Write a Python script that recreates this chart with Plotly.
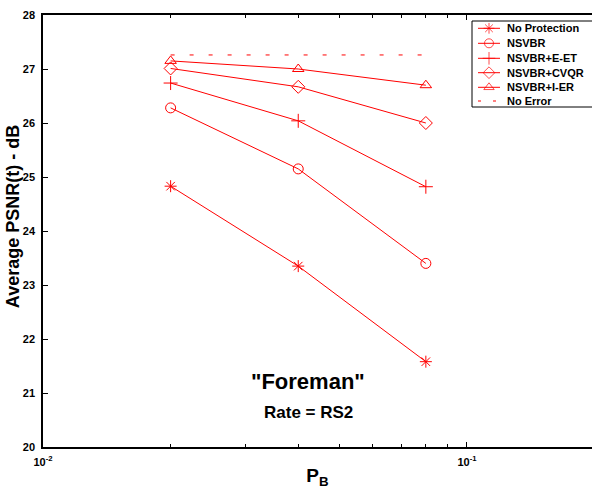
import plotly.graph_objects as go

pb = [0.02, 0.04, 0.08]
no_protection = [24.83, 23.35, 21.58]
nsvbr = [26.28, 25.15, 23.40]
nsvbr_eet = [26.74, 26.04, 24.82]
nsvbr_cvqr = [27.01, 26.67, 26.00]
nsvbr_ier = [27.15, 27.00, 26.70]
no_error = [27.26, 27.26, 27.26]

names = ["No Protection", "NSVBR", "NSVBR+E-ET", "NSVBR+CVQR", "NSVBR+I-ER", "No Error"]
values = [no_protection, nsvbr, nsvbr_eet, nsvbr_cvqr, nsvbr_ier, no_error]
symbols = ["asterisk-open", "circle-open", "cross-thin-open", "diamond-open", "triangle-up-open", None]

FONT = "Liberation Sans, Arial, Helvetica, sans-serif"
RED = "#ff0000"
DASH = "4px,15px"

fig = go.Figure()
for name, vals, sym in zip(names, values, symbols):
    if sym is None:
        fig.add_trace(go.Scatter(x=pb, y=vals, name=name, mode="lines",
                                 line=dict(color=RED, width=1, dash=DASH), showlegend=False))
    else:
        fig.add_trace(go.Scatter(
            x=pb, y=vals, name=name, mode="lines+markers", showlegend=False,
            line=dict(color=RED, width=1),
            marker=dict(symbol=sym, size=10, color=RED, line=dict(color=RED, width=1)),
        ))

# custom legend (overlay axes in pixel units of the plot area)
leg_rows = [28.3, 43.3, 58.3, 72.7, 87.3, 101]
shapes = [dict(type="rect", xref="x2", yref="y2", x0=472, x1=620, y0=21, y1=107,
               line=dict(color="black", width=1), fillcolor="white", layer="below")]
annotations = []
for name, sym, ry in zip(names, symbols, leg_rows):
    if sym is None:
        fig.add_trace(go.Scatter(x=[478, 500], y=[ry, ry], mode="lines", xaxis="x2", yaxis="y2",
                                 showlegend=False, hoverinfo="skip",
                                 line=dict(color=RED, width=1, dash="3px,12px")))
    else:
        fig.add_trace(go.Scatter(x=[478, 489, 500], y=[ry, ry, ry], mode="lines+markers",
                                 xaxis="x2", yaxis="y2", showlegend=False, hoverinfo="skip",
                                 line=dict(color=RED, width=1),
                                 marker=dict(symbol=sym, size=[0, 9, 0], color=RED,
                                             line=dict(color=RED, width=1))))
    annotations.append(dict(text=name, xref="x2", yref="y2", x=505, y=ry, xanchor="left",
                            yanchor="middle", showarrow=False,
                            font=dict(family=FONT, size=11, color="black", weight="bold")))

annotations += [
    dict(text='"Foreman"', x=0.483, xref="paper", y=21.21, yref="y",
         showarrow=False, font=dict(family=FONT, size=22, weight="bold")),
    dict(text="Rate = RS2", x=0.483, xref="paper", y=20.63, yref="y",
         showarrow=False, font=dict(family=FONT, size=17, weight="bold")),
    dict(text="Average PSNR(t) - dB", x=-0.0546, xref="paper", y=0.532, yref="paper",
         textangle=-90, showarrow=False, xanchor="center", yanchor="middle",
         font=dict(family=FONT, size=18, weight="bold")),
]

fig.update_layout(
    width=592, height=489,
    margin=dict(l=43, r=0, t=15, b=42),
    paper_bgcolor="white", plot_bgcolor="white",
    font=dict(family=FONT, size=11, color="black"),
    showlegend=False,
    shapes=shapes,
    annotations=annotations,
    xaxis=dict(
        type="log", range=[-2, -0.705],
        tickvals=[0.01, 0.1], ticktext=["10<sup>-2</sup>", "10<sup>-1</sup>"],
        ticks="inside", ticklen=5, tickcolor="black",
        minor=dict(ticks="inside", ticklen=3, tickcolor="black",
                   tickvals=[0.02, 0.03, 0.04, 0.05, 0.06, 0.07, 0.08, 0.09, 0.2]),
        showgrid=False, zeroline=False,
        showline=True, linecolor="black", linewidth=1.5, mirror="ticks",
        tickfont=dict(family=FONT, size=11, weight="bold"),
        ticklabelstandoff=4,
        title=dict(text="P<sub>B</sub>", font=dict(family=FONT, size=19, weight="bold"), standoff=4),
    ),
    yaxis=dict(
        range=[20, 28], dtick=1,
        ticks="inside", ticklen=5, tickcolor="black",
        showgrid=False, zeroline=False,
        showline=True, linecolor="black", linewidth=1.5,
        tickfont=dict(family=FONT, size=11, weight="bold"),
        ticklabelstandoff=4,
    ),
    xaxis2=dict(range=[43, 592], anchor="y2", overlaying="x", visible=False, fixedrange=True),
    yaxis2=dict(range=[447, 15], anchor="x2", overlaying="y", visible=False, fixedrange=True),
)

fig.write_html("out.html")
